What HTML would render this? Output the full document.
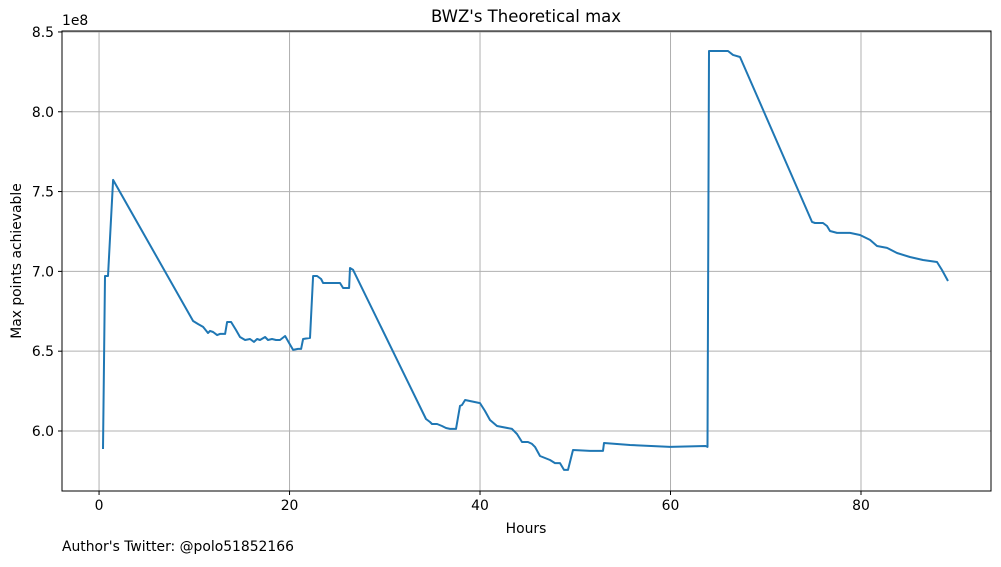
<!DOCTYPE html>
<html><head><meta charset="utf-8"><style>
body{margin:0;background:#fff;}
svg text{font-family:"DejaVu Sans","Liberation Sans",sans-serif;font-size:13.9px;fill:#000;}
</style></head><body>
<svg id="chart" width="1001" height="562" xmlns="http://www.w3.org/2000/svg">
<rect width="1001" height="562" fill="#fff"/>
<g id="grid"></g>
<g id="xticks"></g>
<g id="yticks"></g>
<path id="line" fill="none" stroke="#1f77b4" stroke-width="2" stroke-linejoin="round"/>
<rect x="62" y="31" width="929" height="460" fill="none" stroke="#000" stroke-width="1"/>
<text x="526" y="22" text-anchor="middle" style="font-size:16.5px">BWZ's Theoretical max</text>
<text x="62" y="25">1e8</text>
<text transform="translate(21,261) rotate(-90)" text-anchor="middle">Max points achievable</text>
<text x="526" y="533" text-anchor="middle">Hours</text>
<text x="62" y="551">Author's Twitter: @polo51852166</text>
</svg>
<script>
const hours=[0.42,0.63,0.94,1.47,9.87,10.39,10.92,11.44,11.65,11.97,12.39,12.70,13.23,13.44,13.86,14.38,14.80,15.33,15.85,16.27,16.59,16.90,17.43,17.74,18.16,18.58,19.00,19.53,19.95,20.37,20.89,21.21,21.42,22.15,22.47,22.89,23.31,23.52,24.25,25.30,25.62,26.25,26.35,26.67,34.33,34.75,34.96,35.49,36.01,36.43,36.85,37.48,37.90,38.11,38.43,40.00,40.52,41.05,41.78,43.36,43.88,44.41,45.04,45.46,45.77,46.30,47.35,47.87,48.40,48.82,49.24,49.76,51.55,52.91,53.02,55.75,59.95,63.67,63.88,64.04,66.04,66.56,67.30,74.86,75.17,76.01,76.43,76.75,77.48,78.85,79.90,80.95,81.68,82.73,83.78,85.14,86.51,87.98,88.50,89.13];
const values=[5.887,6.971,6.971,7.573,6.689,6.670,6.652,6.614,6.627,6.620,6.601,6.608,6.608,6.683,6.683,6.633,6.589,6.570,6.576,6.558,6.576,6.570,6.589,6.570,6.576,6.570,6.570,6.595,6.551,6.508,6.514,6.514,6.576,6.583,6.971,6.971,6.952,6.927,6.927,6.927,6.896,6.896,7.021,7.009,6.075,6.056,6.044,6.044,6.031,6.019,6.013,6.013,6.157,6.163,6.194,6.175,6.125,6.069,6.031,6.013,5.981,5.931,5.931,5.919,5.900,5.843,5.818,5.799,5.799,5.756,5.756,5.881,5.875,5.875,5.925,5.912,5.900,5.906,5.900,8.381,8.381,8.356,8.343,7.310,7.303,7.303,7.284,7.253,7.241,7.241,7.228,7.197,7.159,7.147,7.115,7.090,7.071,7.059,7.009,6.940];
const xTicks=[0,20,40,60,80];
const yTicks=[6.0,6.5,7.0,7.5,8.0,8.5];
const yTickLabels=["6.0","6.5","7.0","7.5","8.0","8.5"];
const X0=62,X1=991,Y0=491,Y1=31,XMIN=-3.89,XMAX=93.65,YMIN=5.624,YMAX=8.506;
const sx=h=>X0+(h-XMIN)/(XMAX-XMIN)*(X1-X0);
const sy=v=>Y0-(v-YMIN)/(YMAX-YMIN)*(Y0-Y1);
const NS="http://www.w3.org/2000/svg";
const grid=document.getElementById('grid'),gx=document.getElementById('xticks'),gy=document.getElementById('yticks');
function mk(tag,attrs,parent){const e=document.createElementNS(NS,tag);for(const k in attrs)e.setAttribute(k,attrs[k]);parent.appendChild(e);return e;}
xTicks.forEach(t=>{const x=sx(t);
 const g=mk('line',{x1:x,x2:x,y1:Y1,y2:Y0,stroke:'#b0b0b0','stroke-width':1},grid);
 
 
 const tk=mk('line',{x1:x,x2:x,y1:Y0,y2:Y0+4,stroke:'#000'},gx);
 
 
 const tx=mk('text',{x:x,y:Y0+19,'text-anchor':'middle'},gx);tx.textContent=String(t);
 
 
});
yTicks.forEach((t,i)=>{const y=sy(t);
 const g=mk('line',{x1:X0,x2:X1,y1:y,y2:y,stroke:'#b0b0b0','stroke-width':1},grid);
 
 
 const tk=mk('line',{x1:X0-4,x2:X0,y1:y,y2:y,stroke:'#000'},gy);
 
 
 const tx=mk('text',{x:X0-8,y:y+5,'text-anchor':'end'},gy);tx.textContent=yTickLabels[i];
 
 
});
document.getElementById('line').setAttribute('d',hours.map((h,i)=>(i?'L':'M')+sx(h).toFixed(1)+','+sy(values[i]).toFixed(1)).join(''));
</script>
</body></html>
